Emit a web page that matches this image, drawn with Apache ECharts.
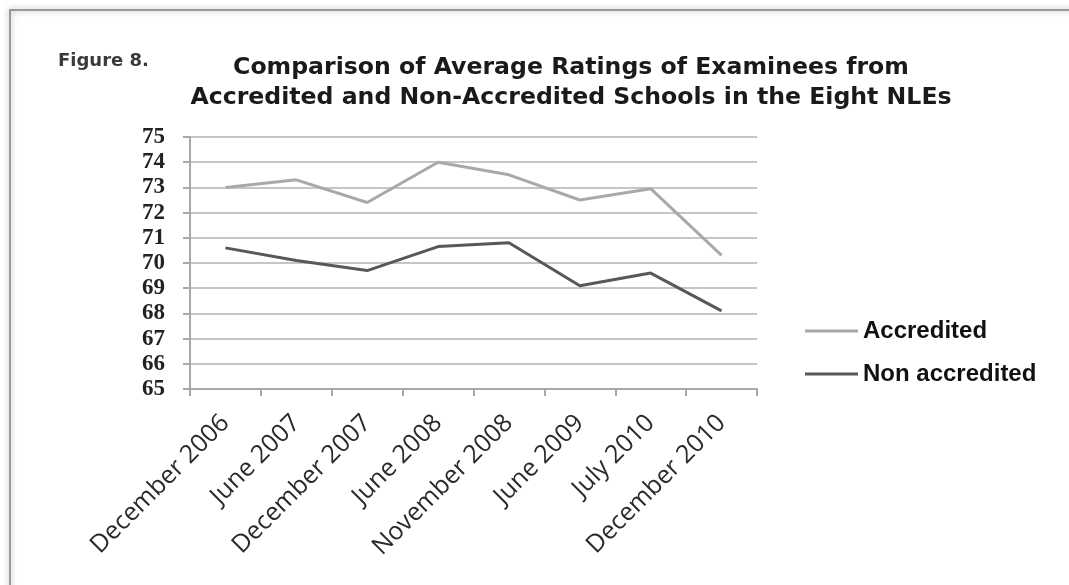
<!DOCTYPE html>
<html>
<head>
<meta charset="utf-8">
<script src="https://cdn.jsdelivr.net/npm/echarts@6/dist/echarts.min.js"></script>
<style>
  html, body { margin: 0; padding: 0; background: #ffffff; }
  #chart { width: 1069px; height: 585px; }
</style>
</head>
<body>
<div id="chart"></div>
<script>
// Examination periods (x axis categories)
const categories = [
  'December 2006', 'June 2007', 'December 2007', 'June 2008',
  'November 2008', 'June 2009', 'July 2010', 'December 2010'
];

// Average ratings per examination
const accredited    = [73.0, 73.3, 72.4, 74.0, 73.5, 72.5, 72.95, 70.3];
const nonAccredited = [70.6, 70.1, 69.7, 70.65, 70.8, 69.1, 69.6, 68.1];

// Rating axis range
const yMin = 65;
const yMax = 75;
const yStep = 1;

const chart = echarts.init(document.getElementById('chart'), null, { renderer: 'canvas' });

chart.setOption({
  backgroundColor: '#ffffff',
  animation: false,
  graphic: [
    {
      type: 'rect',
      shape: { x: 10, y: 10, width: 1100, height: 620 },
      style: {
        fill: 'transparent',
        stroke: '#9a9a9a',
        lineWidth: 2,
        shadowBlur: 6,
        shadowColor: 'rgba(0,0,0,0.35)'
      },
      silent: true
    }
  ],
  title: [
    {
      text: 'Comparison of Average Ratings of Examinees from\nAccredited and Non-Accredited Schools in the Eight NLEs',
      left: 566,
      top: 48,
      textAlign: 'center',
      textStyle: {
        fontFamily: 'DejaVu Sans',
        fontWeight: 'bold',
        fontSize: 23.6,
        lineHeight: 30,
        color: '#1a1a1a'
      }
    },
    {
      text: 'Figure 8.',
      left: 53,
      top: 47,
      textStyle: {
        fontFamily: 'DejaVu Sans',
        fontWeight: 'bold',
        fontSize: 18,
        color: '#3a3a3a'
      }
    }
  ],
  legend: {
    orient: 'vertical',
    left: 800,
    top: 314,
    itemWidth: 53,
    itemHeight: 3,
    itemGap: 19,
    icon: 'rect',
    textStyle: {
      fontFamily: 'Liberation Sans',
      fontWeight: 'bold',
      fontSize: 24,
      color: '#111111',
      padding: [0, 0, 0, 0]
    },
    data: ['Accredited', 'Non accredited']
  },
  grid: {
    left: 190,
    right: 312,
    top: 137,
    bottom: 196,
    containLabel: false
  },
  xAxis: {
    type: 'category',
    data: categories,
    boundaryGap: true,
    axisLine: { show: true, lineStyle: { color: '#a8a8a8', width: 2 } },
    axisTick: { show: true, length: 7, lineStyle: { color: '#a8a8a8', width: 2 } },
    axisLabel: {
      rotate: 45,
      margin: 30,
      fontFamily: 'Open Sans',
      fontSize: 25,
      color: '#2a2a2a'
    },
    splitLine: { show: false }
  },
  yAxis: {
    type: 'value',
    min: yMin,
    max: yMax,
    interval: yStep,
    axisLine: { show: true, lineStyle: { color: '#a8a8a8', width: 2 } },
    axisTick: { show: true, length: 7, lineStyle: { color: '#a8a8a8', width: 2 } },
    axisLabel: {
      margin: 25,
      fontFamily: 'Liberation Serif',
      fontWeight: 'bold',
      fontSize: 23,
      color: '#222222'
    },
    splitLine: { show: true, lineStyle: { color: '#c6c6c6', width: 2 } }
  },
  series: [
    {
      name: 'Accredited',
      type: 'line',
      data: accredited,
      symbol: 'none',
      lineStyle: { color: '#a9a9a9', width: 3 },
      itemStyle: { color: '#a9a9a9' }
    },
    {
      name: 'Non accredited',
      type: 'line',
      data: nonAccredited,
      symbol: 'none',
      lineStyle: { color: '#585858', width: 3 },
      itemStyle: { color: '#585858' }
    }
  ]
});
</script>
</body>
</html>
